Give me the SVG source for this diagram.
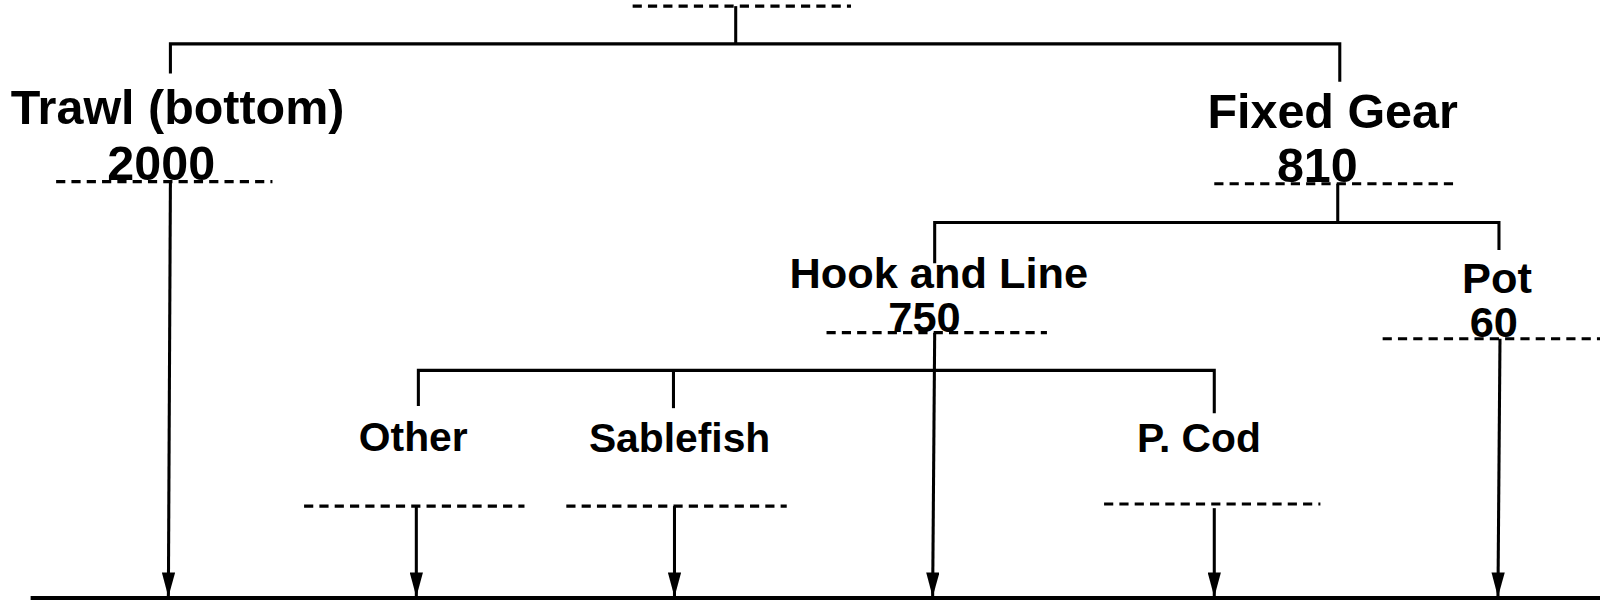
<svg xmlns="http://www.w3.org/2000/svg" width="1600" height="601" viewBox="0 0 1600 601">
<style>
text{font-family:"Liberation Sans",Arial,sans-serif;font-weight:bold;fill:#000;text-anchor:middle}
.l1{font-size:47.5px}
.l2{font-size:42.5px}
.l3{font-size:40px}
.c{stroke:#000;stroke-width:3;fill:none}
.d{stroke:#000;stroke-width:3;fill:none;stroke-dasharray:9 6}
.base{stroke:#000;stroke-width:4;fill:none}
</style>
<defs>
<marker id="ah" markerWidth="24" markerHeight="13" refX="24" refY="6.5" orient="auto" markerUnits="userSpaceOnUse" viewBox="0 0 24 13">
<path d="M0,0 L24,6.5 L0,13 Z" fill="#000"/>
</marker>
</defs>
<g transform="scale(1.0204)">
<g id="root"><line class="d" x1="620" y1="6" x2="834" y2="6"/></g>
<g id="trawl">
<text class="l1" x="174" y="122">Trawl (bottom)</text>
<text class="l1" x="158" y="176">2000</text>
<line class="d" x1="55" y1="178" x2="267" y2="178"/>
</g>
<g id="fixed">
<text class="l1" x="1306" y="125">Fixed Gear</text>
<text class="l1" x="1291" y="178">810</text>
<line class="d" x1="1190" y1="180" x2="1430" y2="180"/>
</g>
<g id="hook">
<text class="l2" x="920" y="282">Hook and Line</text>
<text class="l2" x="906" y="325">750</text>
<line class="d" x1="810" y1="326" x2="1026" y2="326"/>
</g>
<g id="pot">
<text class="l2" x="1467" y="287">Pot</text>
<text class="l2" x="1464" y="330">60</text>
<line class="d" x1="1355" y1="332" x2="1600" y2="332"/>
</g>
<g id="other">
<text class="l3" x="405" y="442">Other</text>
<line class="d" x1="298" y1="496" x2="514" y2="496"/>
</g>
<g id="sablefish">
<text class="l3" x="666" y="443">Sablefish</text>
<line class="d" x1="555" y1="496" x2="771" y2="496"/>
</g>
<g id="pcod">
<text class="l3" x="1175" y="443">P. Cod</text>
<line class="d" x1="1082" y1="494" x2="1294" y2="494"/>
</g>
<g id="connectors">
<polyline class="c" points="721,6 721,43"/>
<polyline class="c" points="167,72 167,43 1313,43 1313,80"/>
<polyline class="c" points="1311,180 1311,218"/>
<polyline class="c" points="916,258 916,218 1469,218 1469,245"/>
<polyline class="c" points="410,398 410,363 1190,363 1190,405"/>
<line class="c" x1="660" y1="363" x2="660" y2="400"/>
<line class="c" x1="167" y1="178" x2="165" y2="585" marker-end="url(#ah)"/>
<line class="c" x1="408" y1="496" x2="408" y2="585" marker-end="url(#ah)"/>
<line class="c" x1="661" y1="496" x2="661" y2="585" marker-end="url(#ah)"/>
<line class="c" x1="916" y1="326" x2="914" y2="585" marker-end="url(#ah)"/>
<line class="c" x1="1190" y1="498" x2="1190" y2="585" marker-end="url(#ah)"/>
<line class="c" x1="1470" y1="332" x2="1468" y2="585" marker-end="url(#ah)"/>
<line class="base" x1="30" y1="586" x2="1570" y2="586"/>
</g>
</g>
</svg>
